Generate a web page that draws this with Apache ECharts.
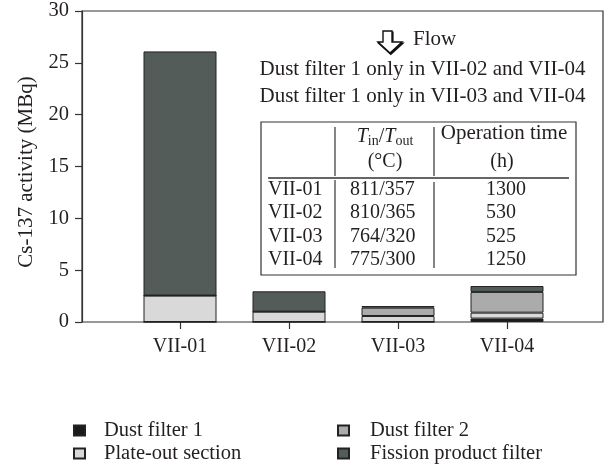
<!DOCTYPE html>
<html>
<head>
<meta charset="utf-8">
<style>
  html, body { margin: 0; padding: 0; background: #fff; }
  #chart { width: 604px; height: 468px; }
</style>
<script src="https://cdn.jsdelivr.net/npm/echarts@6/dist/echarts.min.js"></script>
</head>
<body>
<div id="chart"></div>
<script>
// Test loops and their Cs-137 activity per component (MBq)
const categories = ['VII-01', 'VII-02', 'VII-03', 'VII-04'];
const dustFilter1 = [0, 0, 0, 0.33];
const plateOut = [2.55, 1.0, 0.58, 0.57];
const dustFilter2 = [0, 0, 0.8, 2.0];
const fissionProductFilter = [23.55, 1.96, 0.16, 0.57];
const yTicks = [0, 5, 10, 15, 20, 25, 30];

// Loop operating conditions shown in the inset table
const tempInOut = ['811/357', '810/365', '764/320', '775/300'];
const operationTime = ['1300', '530', '525', '1250'];

const FONT = "'Liberation Serif', 'DejaVu Serif', serif";
const INK = '#231f20';
const EDGE = '#222';
const LINE = '#333';

const seriesDefs = [
  { name: 'Dust filter 1', values: dustFilter1, color: '#1c1a1b' },
  { name: 'Plate-out section', values: plateOut, color: '#d9d9d9' },
  { name: 'Dust filter 2', values: dustFilter2, color: '#ababab' },
  { name: 'Fission product filter', values: fissionProductFilter, color: '#545c5a' }
];

const series = seriesDefs.map(d => ({
  name: d.name,
  type: 'bar',
  stack: 'total',
  barWidth: 73,
  xAxisIndex: 0,
  yAxisIndex: 0,
  itemStyle: { color: d.color, borderColor: EDGE, borderWidth: 1 },
  emphasis: { disabled: true },
  data: d.values
}));

const txt = (x, y, text, align, size) => ({
  type: 'text',
  x: x, y: y,
  silent: true,
  style: {
    text: text,
    font: (size || 20) + 'px ' + FONT,
    fill: INK,
    textAlign: align || 'left',
    textVerticalAlign: 'middle'
  }
});

const seg = (x1, y1, x2, y2, w) => ({
  type: 'line',
  silent: true,
  shape: { x1: x1, y1: y1, x2: x2, y2: y2 },
  style: { stroke: LINE, lineWidth: w || 1.2 }
});

const rowY = [190, 213, 236.5, 260];
const tableRows = [];
categories.forEach((c, i) => {
  tableRows.push(txt(268, rowY[i], c));
  tableRows.push(txt(350, rowY[i], tempInOut[i]));
  tableRows.push(txt(486, rowY[i], operationTime[i]));
});

const arrowPts = [[383, 31], [392, 31], [392, 42], [402, 42], [390, 53], [378, 42], [383, 42]];

const option = {
  animation: false,
  backgroundColor: '#fff',
  grid: [
    // plotting area for the bars
    { left: 125.5, right: 42.5, top: 11, bottom: 146 },
    // surrounding frame
    { left: 82, right: 1, top: 11, bottom: 146, show: true, borderColor: LINE, borderWidth: 1.2 }
  ],
  xAxis: [
    {
      type: 'category',
      gridIndex: 0,
      data: categories,
      boundaryGap: true,
      axisLine: { show: false },
      axisTick: { show: true, alignWithLabel: true, length: 7, lineStyle: { color: LINE, width: 1.2 } },
      axisLabel: { margin: 15, fontFamily: FONT, fontSize: 20, color: INK },
      splitLine: { show: false }
    },
    { type: 'value', gridIndex: 1, show: false, min: 0, max: 1 }
  ],
  yAxis: [
    {
      type: 'value',
      gridIndex: 0,
      offset: 43.5,
      min: 0, max: 30, interval: 5,
      axisLine: { show: true, lineStyle: { color: LINE, width: 1.2 } },
      axisTick: { show: true, length: 7, lineStyle: { color: LINE, width: 1.2 } },
      axisLabel: {
        margin: 13,
        fontFamily: FONT, fontSize: 20.5, color: INK,
        formatter: v => (yTicks.indexOf(v) >= 0 ? String(v) : '')
      },
      splitLine: { show: false }
    },
    { type: 'value', gridIndex: 1, show: false, min: 0, max: 1 }
  ],
  legend: [
    {
      orient: 'vertical', left: 73, top: 420, itemGap: 2, padding: 0,
      itemWidth: 11, itemHeight: 10, icon: 'rect',
      selectedMode: false,
      data: ['Dust filter 1', 'Plate-out section'],
      textStyle: { fontFamily: FONT, fontSize: 20.5, color: INK, padding: [0, 0, 0, 14] }
    },
    {
      orient: 'vertical', left: 337, top: 420, itemGap: 2, padding: 0,
      itemWidth: 11, itemHeight: 10, icon: 'rect',
      selectedMode: false,
      data: ['Dust filter 2', 'Fission product filter'],
      textStyle: { fontFamily: FONT, fontSize: 20.5, color: INK, padding: [0, 0, 0, 16] }
    }
  ],
  graphic: [
    // vertical axis title
    {
      type: 'text', x: 26, y: 172, rotation: Math.PI / 2, silent: true,
      style: {
        text: 'Cs-137 activity (MBq)', font: '21px ' + FONT, fill: INK,
        textAlign: 'center', textVerticalAlign: 'middle'
      }
    },
    // flow direction arrow with a slight drop shadow
    {
      type: 'polygon', silent: true, x: 0.8, y: 1.2,
      shape: { points: arrowPts },
      style: { fill: '#111', stroke: '#111', lineWidth: 1.6 }
    },
    {
      type: 'polygon', silent: true,
      shape: { points: arrowPts },
      style: { fill: '#fff', stroke: '#111', lineWidth: 1.4 }
    },
    txt(413, 39, 'Flow', 'left', 21),
    txt(422.5, 69, 'Dust filter 1 only in VII-02 and VII-04', 'center', 21),
    txt(422.5, 96, 'Dust filter 1 only in VII-03 and VII-04', 'center', 21),
    // inset table frame and rules
    {
      type: 'rect', silent: true,
      shape: { x: 261, y: 122, width: 315, height: 153 },
      style: { fill: '#fff', stroke: LINE, lineWidth: 1.2 }
    },
    seg(268, 178, 569, 178, 1.4),
    seg(335, 127, 335, 176),
    seg(335, 180, 335, 268),
    seg(434, 127, 434, 176),
    seg(434, 182, 434, 268),
    // header cells
    {
      type: 'text', x: 385, y: 137, silent: true,
      style: {
        text: '{t|T}{s|in}{n|/}{t|T}{s|out}',
        textAlign: 'center', textVerticalAlign: 'middle',
        fill: INK,
        rich: {
          t: { fontFamily: FONT, fontSize: 20, fontStyle: 'italic', lineHeight: 22, fill: INK, color: INK },
          n: { fontFamily: FONT, fontSize: 20, lineHeight: 22, fill: INK, color: INK },
          s: { fontFamily: FONT, fontSize: 14, lineHeight: 12, verticalAlign: 'bottom', fill: INK, color: INK }
        }
      }
    },
    txt(385, 162, '(\u00b0C)', 'center'),
    txt(504, 133, 'Operation time', 'center', 21),
    txt(502, 162, '(h)', 'center')
  ].concat(tableRows),
  series: series
};

const chart = echarts.init(document.getElementById('chart'), null, { renderer: 'canvas' });
chart.setOption(option);
</script>
</body>
</html>
